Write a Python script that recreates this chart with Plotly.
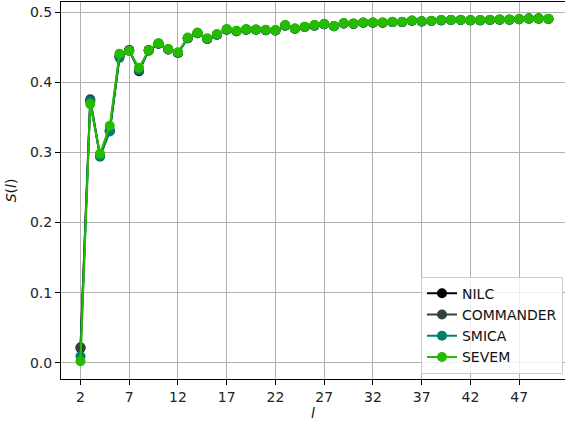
import plotly.graph_objects as go

ells = list(range(2, 51))

sevem = [0.002, 0.369, 0.298, 0.338, 0.441, 0.445, 0.421, 0.446, 0.456, 0.4475,
         0.443, 0.464, 0.471, 0.463, 0.469, 0.476, 0.4736, 0.476, 0.4756, 0.475,
         0.4746, 0.4817, 0.477, 0.4793, 0.4817, 0.4836, 0.4803, 0.4846, 0.484, 0.4856,
         0.4856, 0.4856, 0.4865, 0.4865, 0.4884, 0.4874, 0.488, 0.4889, 0.4893, 0.4893,
         0.4889, 0.4889, 0.4893, 0.4898, 0.4898, 0.4903, 0.4912, 0.4912, 0.4907]
smica = [0.009, 0.373, 0.294, 0.330, 0.435, 0.445, 0.418, 0.445, 0.455, 0.447,
         0.442, 0.463, 0.470, 0.462, 0.468, 0.475, 0.473, 0.475, 0.475, 0.4745,
         0.474, 0.481, 0.4765, 0.479, 0.481, 0.483, 0.480, 0.484, 0.4835, 0.485,
         0.485, 0.485, 0.486, 0.486, 0.488, 0.487, 0.4875, 0.4885, 0.489, 0.489,
         0.4885, 0.4885, 0.489, 0.4895, 0.4895, 0.490, 0.491, 0.491, 0.4905]
commander = [0.022, 0.376, 0.296, 0.331, 0.438, 0.446, 0.417, 0.446, 0.455, 0.447,
             0.442, 0.463, 0.470, 0.462, 0.468, 0.475, 0.473, 0.475, 0.475, 0.4745,
             0.474, 0.481, 0.4765, 0.479, 0.481, 0.483, 0.480, 0.484, 0.4835, 0.485,
             0.485, 0.485, 0.486, 0.486, 0.488, 0.487, 0.4875, 0.4885, 0.489, 0.489,
             0.4885, 0.4885, 0.489, 0.4895, 0.4895, 0.490, 0.491, 0.491, 0.4905]
nilc = [0.021, 0.374, 0.295, 0.331, 0.437, 0.446, 0.416, 0.446, 0.455, 0.447,
        0.442, 0.463, 0.470, 0.462, 0.468, 0.475, 0.473, 0.475, 0.475, 0.4745,
        0.474, 0.481, 0.4765, 0.479, 0.481, 0.483, 0.480, 0.484, 0.4835, 0.485,
        0.485, 0.485, 0.486, 0.486, 0.488, 0.487, 0.4875, 0.4885, 0.489, 0.489,
        0.4885, 0.4885, 0.489, 0.4895, 0.4895, 0.490, 0.491, 0.491, 0.4905]

series = [("NILC", nilc, "#000000"),
          ("COMMANDER", commander, "#2f4538"),
          ("SMICA", smica, "#00806a"),
          ("SEVEM", sevem, "#26bb00")]

x_ticks = list(range(2, 51, 5))
y_ticks = [0.0, 0.1, 0.2, 0.3, 0.4, 0.5]

fig = go.Figure()
for name, vals, col in series:
    fig.add_trace(go.Scatter(
        x=ells, y=vals, name=name, mode="lines+markers",
        line=dict(color=col, width=2),
        marker=dict(color=col, size=10, line=dict(width=0)),
    ))

tfont = dict(family="DejaVu Sans", size=14, color="#222222")
fig.update_layout(
    width=565, height=425,
    margin=dict(l=61, r=0, t=2, b=46),
    paper_bgcolor="white", plot_bgcolor="white",
    font=tfont,
    showlegend=True,
    legend=dict(
        x=0.996, y=0.014, xanchor="right", yanchor="bottom",
        bgcolor="rgba(255,255,255,0.8)", bordercolor="#cccccc", borderwidth=1,
        font=dict(family="DejaVu Sans", size=14, color="#111111"),
        tracegroupgap=0, itemwidth=30,
    ),
    xaxis=dict(
        range=[0, 51.7], tickvals=x_ticks, ticktext=[str(t) for t in x_ticks],
        showgrid=True, gridcolor="#b0b0b0", gridwidth=1,
        showline=True, linecolor="black", linewidth=1, mirror=True,
        ticks="outside", ticklen=5, tickcolor="black", zeroline=False,
        title=dict(text="<i>l</i>", standoff=4,
                   font=dict(family="DejaVu Sans", size=14, color="#111111")),
        tickfont=tfont, automargin=False,
    ),
    yaxis=dict(
        range=[-0.0233, 0.5147], tickvals=y_ticks,
        ticktext=[f"{t:.1f}" for t in y_ticks],
        showgrid=True, gridcolor="#b0b0b0", gridwidth=1,
        showline=True, linecolor="black", linewidth=1, mirror=False,
        ticks="outside", ticklen=5, tickcolor="black", zeroline=False,
        title=dict(text="<i>S</i>(<i>l</i>)", standoff=10,
                   font=dict(family="DejaVu Sans", size=14, color="#111111")),
        tickfont=tfont, automargin=False,
    ),
)

fig.write_html("out.html", config={"displayModeBar": False},
               post_script="document.body.style.margin='0';")
